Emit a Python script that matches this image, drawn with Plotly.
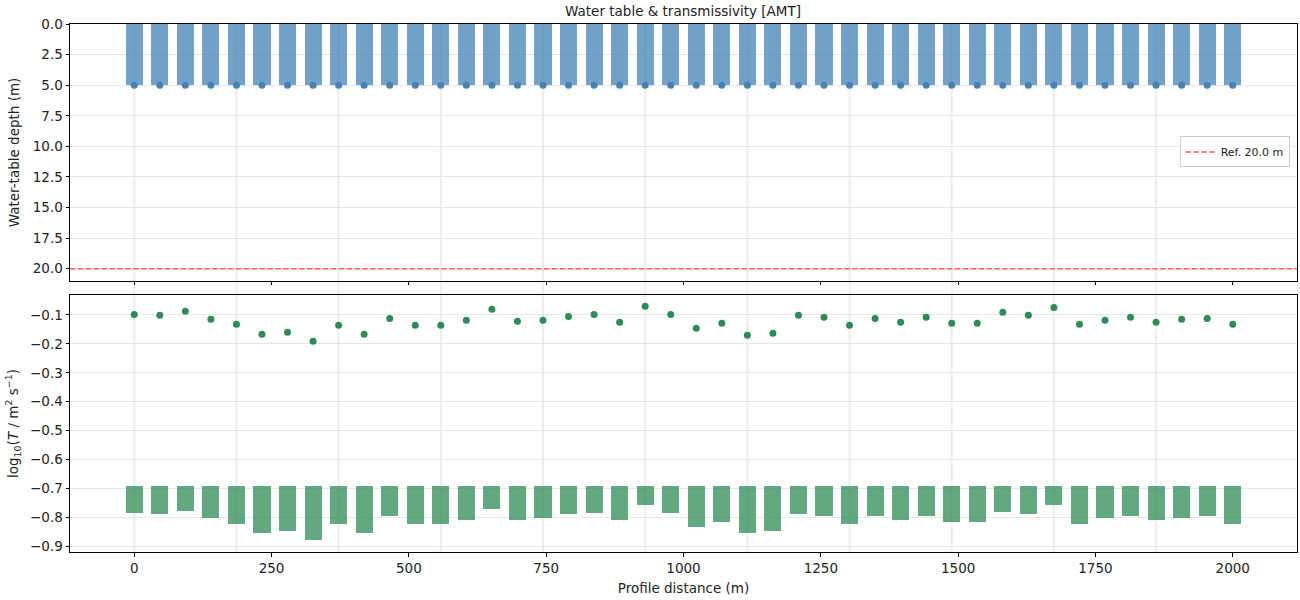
import plotly.graph_objects as go
from plotly.subplots import make_subplots

# ---- data ----
stations = [0.0, 46.51, 93.02, 139.53, 186.05, 232.56, 279.07, 325.58, 372.09, 418.60,
            465.12, 511.63, 558.14, 604.65, 651.16, 697.67, 744.19, 790.70, 837.21, 883.72,
            930.23, 976.74, 1023.26, 1069.77, 1116.28, 1162.79, 1209.30, 1255.81, 1302.33, 1348.84,
            1395.35, 1441.86, 1488.37, 1534.88, 1581.40, 1627.91, 1674.42, 1720.93, 1767.44, 1813.95,
            1860.47, 1906.98, 1953.49, 2000.0]

water_depth = [5.0] * 44

log_T = [-0.098, -0.101, -0.087, -0.115, -0.132, -0.167, -0.160, -0.191, -0.136, -0.167,
         -0.112, -0.136, -0.136, -0.118, -0.080, -0.122, -0.118, -0.105, -0.098, -0.125,
         -0.070, -0.098, -0.146, -0.129, -0.170, -0.163, -0.101, -0.108, -0.136, -0.112,
         -0.125, -0.108, -0.129, -0.129, -0.091, -0.101, -0.074, -0.132, -0.118, -0.108,
         -0.125, -0.115, -0.112, -0.132]

log_T_bar_end = [-0.784, -0.787, -0.777, -0.804, -0.822, -0.856, -0.846, -0.880, -0.822, -0.853,
                 -0.797, -0.822, -0.822, -0.808, -0.770, -0.811, -0.804, -0.790, -0.784, -0.811,
                 -0.759, -0.784, -0.835, -0.815, -0.856, -0.849, -0.787, -0.794, -0.822, -0.797,
                 -0.811, -0.794, -0.815, -0.815, -0.780, -0.790, -0.759, -0.822, -0.804, -0.797,
                 -0.811, -0.804, -0.797, -0.822]
bar_base = -0.691

ref_depth = 20.0
x_range = [-117, 2117]

FS = 13.5

# ---- figure ----
fig = make_subplots(rows=2, cols=1, shared_xaxes=True, vertical_spacing=0.0266)

fig.add_trace(go.Bar(x=stations, y=water_depth, base=0, width=31,
                     marker=dict(color="rgba(70,130,180,0.75)", line=dict(width=0)),
                     showlegend=False), row=1, col=1)
fig.add_trace(go.Scatter(x=stations, y=water_depth, mode="markers",
                         marker=dict(color="#4682b4", size=7), showlegend=False), row=1, col=1)
fig.add_trace(go.Scatter(x=x_range, y=[ref_depth, ref_depth], mode="lines",
                         line=dict(color="#ff6347", width=1.5, dash="5.5px,2.4px"),
                         name="Ref. %.1f m" % ref_depth, showlegend=True), row=1, col=1)

fig.add_trace(go.Bar(x=stations, y=[v - bar_base for v in log_T_bar_end], base=bar_base, width=31,
                     marker=dict(color="rgba(46,139,87,0.75)", line=dict(width=0)),
                     showlegend=False), row=2, col=1)
fig.add_trace(go.Scatter(x=stations, y=log_T, mode="markers",
                         marker=dict(color="#2e8b57", size=7), showlegend=False), row=2, col=1)

for xs in stations[::4]:
    fig.add_shape(type="line", xref="x", yref="paper", x0=xs, x1=xs, y0=0, y1=1,
                  line=dict(color="rgba(0,0,0,0.075)", width=2), layer="below")

axis_common = dict(showline=True, linecolor="black", linewidth=1, mirror=True,
                   ticks="outside", ticklen=3.5, tickcolor="black", tickwidth=1,
                   zeroline=False, tickfont=dict(size=FS, color="#222"))

fig.update_xaxes(range=x_range, tickvals=[0, 250, 500, 750, 1000, 1250, 1500, 1750, 2000],
                 showgrid=False, **axis_common)
fig.update_xaxes(showticklabels=False, row=1, col=1)
fig.update_xaxes(title=dict(text="Profile distance (m)", font=dict(size=FS, color="#222"), standoff=8),
                 row=2, col=1)

fig.update_yaxes(showgrid=True, gridcolor="#e6e6e6", gridwidth=1, **axis_common)
fig.update_yaxes(range=[21, 0], tickvals=[0, 2.5, 5, 7.5, 10, 12.5, 15, 17.5, 20],
                 tickformat=".1f",
                 title=dict(text="Water-table depth (m)", font=dict(size=FS, color="#222"), standoff=10),
                 row=1, col=1)
fig.update_yaxes(range=[-0.92, -0.031],
                 tickvals=[-0.9, -0.8, -0.7, -0.6, -0.5, -0.4, -0.3, -0.2, -0.1], tickformat=".1f",
                 title=dict(text="log<sub>10</sub>(<i>T</i> / m<sup>2</sup> s<sup>−1</sup>)",
                            font=dict(size=FS, color="#222"), standoff=8),
                 row=2, col=1)

fig.update_layout(
    width=1300, height=600,
    margin=dict(l=70, r=3, t=24, b=48),
    paper_bgcolor="white", plot_bgcolor="white",
    font=dict(family="DejaVu Sans", size=FS, color="#222"),
    bargap=0,
    title=dict(text="Water table & transmissivity [AMT]", x=683 / 1300, xanchor="center",
               y=1 - 11 / 600, yanchor="middle", font=dict(size=FS, color="#222")),
    legend=dict(x=0.994, xanchor="right", y=0.7576, yanchor="middle",
                bgcolor="white", bordercolor="#cccccc", borderwidth=1,
                font=dict(size=11, color="#222"), itemwidth=30, tracegroupgap=0),
)
fig.update_layout(yaxis=dict(domain=[0.5133, 1.0]), yaxis2=dict(domain=[0.0, 0.4867]))

fig.write_html("out.html")
